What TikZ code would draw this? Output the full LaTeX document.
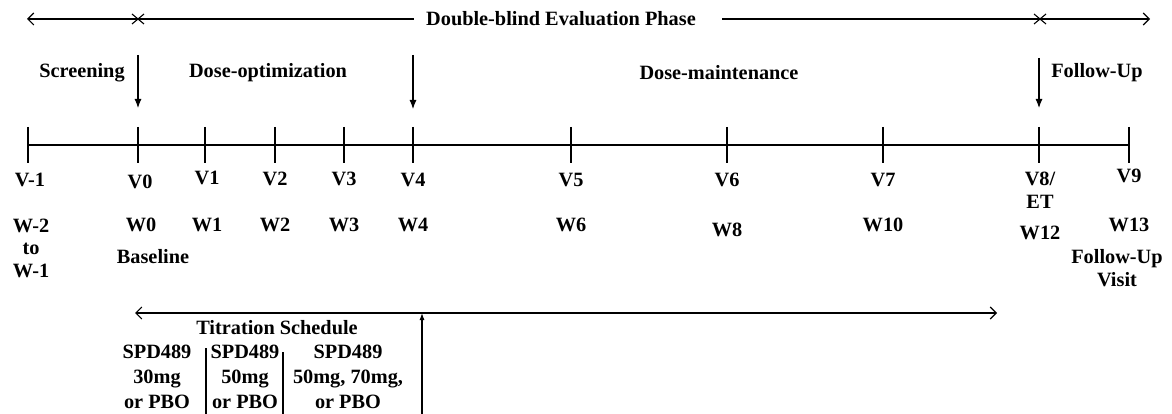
\documentclass[tikz,border=0pt]{standalone}
\usepackage{fontspec}
\setmainfont{Liberation Serif}
\usetikzlibrary{calc}
\usetikzlibrary{positioning}
\usetikzlibrary{arrows.meta}

\begin{document}
\begin{tikzpicture}[x=1pt,y=-1pt]
\tikzstyle{lbl}=[font=\bfseries\fontsize{20.3}{22.5}\selectfont,inner sep=0pt,align=center]
\tikzstyle{rule}=[line width=1.1pt]
\tikzstyle{phasearrow}=[rule,-{Latex[length=9pt,width=7pt]}]
\tikzstyle{barb}=[rule,{Straight Barb[length=6pt,width=12pt]}-{Straight Barb[length=6pt,width=12pt]}]
\useasboundingbox (0,0) rectangle (1172,414);

% evaluation phase
\node[lbl] at (561,19) (phase) {Double-blind Evaluation Phase};
\coordinate (pl) at (27,19);
\coordinate (pr) at (1150,19);
\draw[rule,{Straight Barb[length=6pt,width=12pt]}-] (pl) -- ([xshift=-12pt]phase.west);
\draw[rule,-{Straight Barb[length=6pt,width=12pt]}] ([xshift=26pt]phase.east) -- (pr);
\foreach \x in {138,1040}
  \draw[rule] (\x,19) +(-6,-5) -- +(6,5) +(-6,5) -- +(6,-5);

% periods
\node[lbl] at (82,73) (scr) {Screening};
\node[lbl] at (268,73) (opt) {Dose-optimization};
\node[lbl] at (719,73) (mnt) {Dose-maintenance};
\node[lbl] at (1097,73) (fup) {Follow-Up};

% time line
\foreach \n/\x in {m1/28,0/138,1/205,2/275,3/344,4/413,5/571,6/727,7/883,8/1039,9/1129} {
  \coordinate (t\n) at (\x,145);
  \draw[rule] (\x,127) -- (\x,163);
}
\draw[rule] (tm1) -- (t9);
\coordinate (a0) at (138,55);
\coordinate (a4) at (413,55);
\coordinate (a8) at (1039,58);
\draw[phasearrow] (a0) -- ([yshift=37pt]t0);
\draw[phasearrow] (a4) -- ([yshift=36pt]t4);
\draw[phasearrow] (a8) -- ([yshift=37pt]t8);

% visits
\node[lbl] at (30,180) (vm1) {V-1};
\node[lbl] at (140,182) (v0) {V0};
\node[lbl] at (207,178) (v1) {V1};
\node[lbl] at (275,179) (v2) {V2};
\node[lbl] at (344,179) (v3) {V3};
\node[lbl] at (413,180) (v4) {V4};
\node[lbl] at (571,180) (v5) {V5};
\node[lbl] at (727,180) (v6) {V6};
\node[lbl] at (883,180) (v7) {V7};
\node[lbl] at (1040,190) (v8) {V8/\\ET};
\node[lbl] at (1129,176) (v9) {V9};

% weeks
\node[lbl] at (31,248) (wm1) {W-2\\to\\W-1};
\node[lbl] at (141,225) (w0) {W0};
\node[lbl] at (153,257) (base) {Baseline};
\node[lbl] at (207,225) (w1) {W1};
\node[lbl] at (275,225) (w2) {W2};
\node[lbl] at (344,225) (w3) {W3};
\node[lbl] at (413,225) (w4) {W4};
\node[lbl] at (571,225) (w6) {W6};
\node[lbl] at (727,230) (w8) {W8};
\node[lbl] at (883,225) (w10) {W10};
\node[lbl] at (1040,233) (w12) {W12};
\node[lbl] at (1129,225) (w13) {W13};
\node[lbl] at (1117,268) (fvis) {Follow-Up\\Visit};

% titration
\coordinate (ts) at (135,313);
\coordinate (te) at (997,313);
\coordinate (tu) at (422,313);
\coordinate (ub) at (422,414);
\draw[barb] (ts) -- (te);
\draw[rule,-{Latex[length=7pt,width=5pt]}] (ub) -- (tu);
\node[lbl] at (277,328) (tit) {Titration Schedule};
\tikzstyle{dose}=[lbl,font=\bfseries\fontsize{20.3}{25}\selectfont,anchor=north]
\node[dose] at (157,345) (d1) {SPD489\\30mg\\or PBO};
\node[dose] at (245,345) (d2) {SPD489\\50mg\\or PBO};
\node[dose] at (348,345) (d3) {SPD489\\50mg, 70mg,\\or PBO};
\draw[rule] (206,348) -- (206,414);
\draw[rule] (283,352) -- (283,414);
\end{tikzpicture}
\end{document}
